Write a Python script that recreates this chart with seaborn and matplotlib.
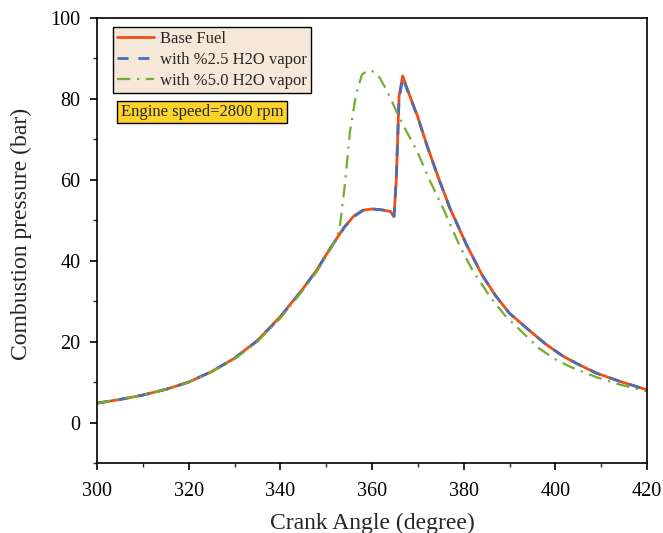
import matplotlib
matplotlib.use("Agg")
import matplotlib.pyplot as plt
import pandas as pd
import seaborn as sns
from matplotlib.ticker import MultipleLocator

# Crank angle (deg) and pressure (bar)
base_x = [300, 305, 310, 315, 320, 325, 330, 335, 340, 345, 348, 351, 354, 356, 358, 360, 362,
          364, 364.8, 365.3, 365.9, 366.7, 368, 370, 372, 374.5, 377, 380.6, 384, 387, 390, 394.5,
          398, 401.7, 405, 409, 414, 420]
base_y = [4.8, 5.7, 6.8, 8.2, 10.0, 12.6, 15.9, 20.3, 26.2, 33.2, 37.8, 43.3, 48.4, 51.0, 52.5,
          52.8, 52.6, 52.2, 50.9, 60.0, 80.6, 85.7, 81.5, 75.5, 68.5, 60.5, 53.0, 44.0, 36.5, 31.3,
          27.0, 22.6, 19.3, 16.4, 14.4, 12.2, 10.2, 8.1]

h2o25_x = base_x
h2o25_y = [4.8, 5.7, 6.8, 8.2, 10.0, 12.6, 15.9, 20.2, 26.1, 33.1, 37.8, 43.2, 48.3, 50.9, 52.4,
           52.8, 52.6, 52.2, 51.0, 60.5, 80.0, 85.2, 81.3, 75.4, 68.4, 60.4, 53.0, 44.0, 36.5, 31.3,
           27.0, 22.6, 19.3, 16.4, 14.4, 12.2, 10.2, 8.1]

h2o50_x = [300, 305, 310, 315, 320, 325, 330, 335, 340, 345, 348, 351, 352.4, 353, 354, 355.2,
           356.5, 357.8, 359.1, 360.5, 361.7, 363.5, 365.5, 367.5, 369.8, 372.7, 375.5, 379.2, 382,
           385.7, 389, 393, 396.5, 400.3, 404, 409, 414, 420]
h2o50_y = [4.8, 5.7, 6.8, 8.2, 10.0, 12.5, 15.7, 20.0, 25.8, 32.8, 37.4, 42.9, 46.0, 48.5, 58.0,
           72.0, 81.0, 86.0, 87.1, 86.7, 85.2, 81.5, 76.5, 72.0, 67.2, 59.6, 53.0, 43.5, 37.5, 31.2,
           26.5, 22.1, 18.3, 15.4, 13.4, 11.2, 9.4, 7.7]

series_names = ["Base Fuel", "with %2.5 H2O vapor", "with %5.0 H2O vapor"]

sns.set_theme(style="ticks")
plt.rcParams["font.family"] = ["Liberation Serif", "DejaVu Serif"]

fig = plt.figure(figsize=(6.63, 5.33), dpi=100)
ax = fig.add_axes([0.1463, 0.1313, 0.8296, 0.8349])

df_base = pd.DataFrame({"x": base_x, "y": base_y})
df_25 = pd.DataFrame({"x": h2o25_x, "y": h2o25_y})
df_50 = pd.DataFrame({"x": h2o50_x, "y": h2o50_y})

sns.lineplot(data=df_base, x="x", y="y", ax=ax, color="#f24d13", linewidth=2.0,
             label=series_names[0])
sns.lineplot(data=df_25, x="x", y="y", ax=ax, color="#4a6db3", linewidth=2.0,
             linestyle=(0, (4, 3.5)), label=series_names[1])
sns.lineplot(data=df_50, x="x", y="y", ax=ax, color="#72ad2e", linewidth=1.6,
             linestyle=(0, (6, 3, 1, 3)), label=series_names[2])

ax.set_xlim(300, 420)
ax.set_ylim(-10, 100)
ax.xaxis.set_major_locator(MultipleLocator(20))
ax.xaxis.set_minor_locator(MultipleLocator(10))
ax.yaxis.set_major_locator(MultipleLocator(20))
ax.yaxis.set_minor_locator(MultipleLocator(10))
ax.tick_params(which="major", direction="out", length=5, width=1.2, labelsize=14.5,
               colors="black", pad=7)
ax.tick_params(axis="x", which="major", pad=9)
ax.tick_params(which="minor", direction="out", length=3, width=1.0)
ax.tick_params(top=False, right=False, which="both")
for s in ax.spines.values():
    s.set_linewidth(1.2)
    s.set_color("black")

ax.set_xlabel("Crank Angle (degree)", fontsize=17, labelpad=8)
ax.set_ylabel("Combustion pressure (bar)", fontsize=17)
ax.yaxis.set_label_coords(-0.118, 0.515)

leg = ax.legend(loc="upper left", bbox_to_anchor=(0.029, 0.98), fontsize=12,
                frameon=True, fancybox=False, handlelength=2.2, borderpad=0.25,
                labelspacing=0.3, handletextpad=0.4, borderaxespad=0)
leg.get_frame().set_facecolor("#f5e8d8")
leg.get_frame().set_edgecolor("black")
leg.get_frame().set_alpha(1)

ax.text(0.043, 0.789, "Engine speed=2800 rpm", transform=ax.transAxes, fontsize=12,
        va="center", ha="left",
        bbox=dict(boxstyle="square,pad=0.2", facecolor="#ffd42a", edgecolor="black", linewidth=1))

fig.savefig("out.png", dpi=100)
